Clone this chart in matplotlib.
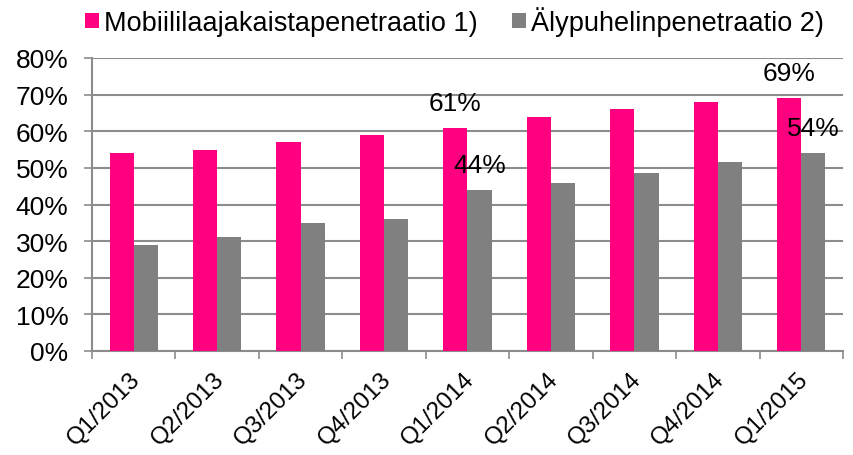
import matplotlib
matplotlib.use("Agg")
import matplotlib.pyplot as plt
import numpy as np

categories = ["Q1/2013", "Q2/2013", "Q3/2013", "Q4/2013", "Q1/2014",
              "Q2/2014", "Q3/2014", "Q4/2014", "Q1/2015"]
mobile = [54, 55, 57, 59, 61, 64, 66, 68, 69]
smart = [29, 31, 35, 36, 44, 46, 48.5, 51.5, 54]
series_names = ["Mobiililaajakaistapenetraatio 1)", "Älypuhelinpenetraatio 2)"]
labeled = [4, 8]

plt.rcParams['font.family'] = ["Liberation Sans", 'DejaVu Sans']

PINK = "#ff0080"
GRAY = "#808080"
GRID = "#8c8c8c"

fig = plt.figure(figsize=(8.54, 4.56), dpi=100)
ax = fig.add_axes([92/854, 1-352/456, (843-92)/854, (352-59)/456])

x = np.arange(len(categories))
w = 0.29
ax.bar(x - w/2, mobile, w, color=PINK, label=series_names[0], zorder=3)
ax.bar(x + w/2, smart, w, color=GRAY, label=series_names[1], zorder=3)

fs = 19
for i in labeled:
    ax.annotate(f"{mobile[i]:.0f}%", (x[i] - w/2, mobile[i]), xytext=(0, 18),
                textcoords="offset points", ha="center", va="center", fontsize=fs, zorder=5)
    ax.annotate(f"{smart[i]:.0f}%", (x[i] + w/2, smart[i]), xytext=(0, 18),
                textcoords="offset points", ha="center", va="center", fontsize=fs, zorder=5)

ax.set_xlim(-0.5, len(categories) - 0.5)
ax.set_ylim(0, 80)
ax.set_yticks(np.arange(0, 81, 10))
ax.set_yticklabels([f"{v}%" for v in range(0, 81, 10)], fontsize=fs)
ax.yaxis.grid(True, color=GRID, lw=1.5, zorder=0)
ax.set_axisbelow(True)

ax.set_xticks(np.arange(-0.5, len(categories)))
ax.set_xticklabels([])
ax.tick_params(axis='x', length=6, width=1.2, color=GRID, direction='out')
ax.tick_params(axis='y', length=6, width=1.2, color=GRID, direction='out', pad=11)
for i, c in enumerate(categories):
    ax.text(x[i] - 0.05, -4.6, c, rotation=45, rotation_mode='anchor', ha='right', va='top',
            fontsize=17.5, transform=ax.transData)

for s in ["top", "right"]:
    ax.spines[s].set_visible(False)
for s in ["left", "bottom"]:
    ax.spines[s].set_color(GRID)
    ax.spines[s].set_linewidth(1.5)

fig.legend(loc="upper left", bbox_to_anchor=(85/854, 1 - 7/456), ncol=2, frameon=False,
           fontsize=19.5, handlelength=0.5, handleheight=0.5, handletextpad=0.22,
           columnspacing=1.25, borderaxespad=0, borderpad=0)

fig.savefig("out.png", dpi=100)
